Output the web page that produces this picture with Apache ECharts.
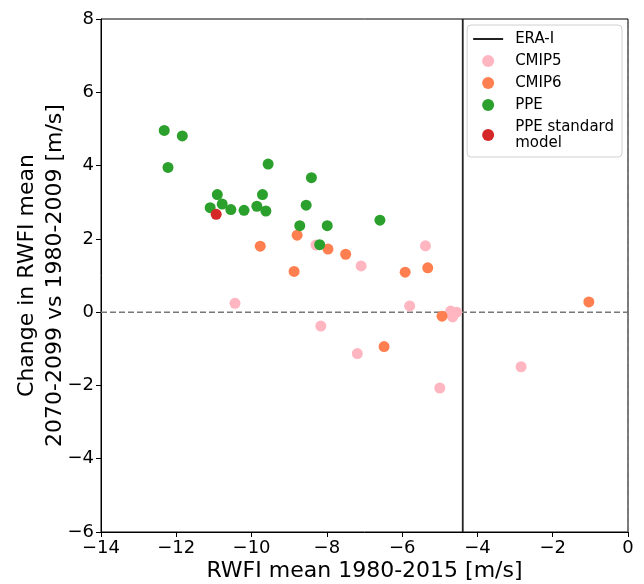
<!DOCTYPE html>
<html>
<head>
<meta charset="utf-8">
<script src="https://cdn.jsdelivr.net/npm/echarts@6/dist/echarts.min.js"></script>
<style>html,body{margin:0;padding:0;background:#fff;}#c{width:644px;height:584px;}</style>
</head>
<body>
<div id="c"></div>
<script>
// ---- Data ----
var eraI = -4.39;
var cmip5X = [-10.44, -8.29, -7.09, -5.38, -5.80, -4.71, -4.55, -4.66, -8.16, -7.19, -5.00, -2.84];
var cmip5Y = [0.24, 1.83, 1.26, 1.81, 0.17, 0.03, 0.00, -0.13, -0.38, -1.13, -2.07, -1.49];
var cmip6X = [-9.77, -8.79, -7.97, -7.50, -8.87, -5.92, -5.32, -4.94, -6.48, -1.04];
var cmip6Y = [1.80, 2.10, 1.72, 1.58, 1.11, 1.09, 1.21, -0.11, -0.94, 0.28];
var ppeX = [-12.32, -11.84, -12.22, -9.56, -8.41, -10.91, -9.71, -10.78, -11.10, -10.55, -10.20, -9.86, -9.62, -8.55, -8.72, -7.99, -8.19, -6.59];
var ppeY = [4.96, 4.81, 3.95, 4.04, 3.67, 3.21, 3.21, 2.95, 2.85, 2.80, 2.78, 2.89, 2.76, 2.92, 2.36, 2.36, 1.84, 2.51];
var stdX = [-10.94];
var stdY = [2.67];
var xTicks = [-14, -12, -10, -8, -6, -4, -2, 0];
var yTicks = [-6, -4, -2, 0, 2, 4, 6, 8];

function zip(a, b) { return a.map(function (v, i) { return [v, b[i]]; }); }

var FONT = 'DejaVu Sans';
var chart = echarts.init(document.getElementById('c'), null, { renderer: 'canvas' });
var minus = function (v) { return String(v).replace('-', '\u2212'); };

chart.setOption({
  animation: false,
  backgroundColor: '#fff',
  grid: { left: 101, top: 19, right: 16, bottom: 52, show: true, borderColor: '#000', borderWidth: 1, outerBoundsMode: 'none', containLabel: false },
  xAxis: {
    type: 'value', min: xTicks[0], max: xTicks[xTicks.length - 1], interval: 2,
    name: 'RWFI mean 1980-2015 [m/s]', nameLocation: 'middle', nameGap: 28, nameMoveOverlap: false,
    nameTextStyle: { fontFamily: FONT, fontSize: 22, color: '#000' },
    axisLine: { show: true, onZero: false, lineStyle: { color: '#000', width: 1 } },
    axisTick: { show: true, inside: false, length: 5, lineStyle: { color: '#000' } },
    axisLabel: { fontFamily: FONT, fontSize: 18, color: '#000', margin: 7, formatter: minus },
    splitLine: { show: false }
  },
  yAxis: {
    type: 'value', min: yTicks[0], max: yTicks[yTicks.length - 1], interval: 2,
    name: 'Change in RWFI mean\n2070-2099 vs 1980-2009 [m/s]', nameLocation: 'middle', nameGap: 32, nameMoveOverlap: false,
    nameTextStyle: { fontFamily: FONT, fontSize: 22, color: '#000', lineHeight: 28 },
    axisLine: { show: true, onZero: false, lineStyle: { color: '#000', width: 1 } },
    axisTick: { show: true, inside: false, length: 5, lineStyle: { color: '#000' } },
    axisLabel: { fontFamily: FONT, fontSize: 18, color: '#000', margin: 7, formatter: minus },
    splitLine: { show: false }
  },
  legend: {
    right: 22, top: 25, orient: 'vertical', align: 'left',
    backgroundColor: '#fff', borderColor: '#d0d0d0', borderWidth: 1, borderRadius: 4,
    padding: [6, 8, 6, 6], itemGap: 6, itemWidth: 30, itemHeight: 12,
    textStyle: { fontFamily: FONT, fontSize: 15, color: '#000', lineHeight: 16, padding: [0, 0, 0, 7] },
    data: [
      { name: 'ERA-I', icon: 'path://M0,0 L30,0 L30,2 L0,2 Z', itemStyle: { color: '#222' } },
      { name: 'CMIP5', icon: 'circle' },
      { name: 'CMIP6', icon: 'circle' },
      { name: 'PPE', icon: 'circle' },
      { name: 'PPE standard\nmodel', icon: 'circle' }
    ]
  },
  series: [
    {
      name: 'ERA-I', type: 'line', symbol: 'none', z: 1,
      data: [[eraI, yTicks[0]], [eraI, yTicks[yTicks.length - 1]]],
      lineStyle: { color: '#222', width: 1.8 }, itemStyle: { color: '#222' }
    },
    {
      name: 'zero-h', type: 'line', symbol: 'none', z: 1, silent: true,
      data: [[xTicks[0], 0], [xTicks[xTicks.length - 1], 0]],
      lineStyle: { color: '#777', width: 1.5, type: [6, 3] }
    },
    {
      name: 'zero-v', type: 'line', symbol: 'none', z: 1, silent: true,
      data: [[0, yTicks[0]], [0, yTicks[yTicks.length - 1]]],
      lineStyle: { color: '#777', width: 1.5, type: [6, 3] }
    },
    { name: 'CMIP5', type: 'scatter', symbolSize: 11, z: 3, data: zip(cmip5X, cmip5Y), itemStyle: { color: '#FFB6C1', opacity: 1 } },
    { name: 'CMIP6', type: 'scatter', symbolSize: 11, z: 3, data: zip(cmip6X, cmip6Y), itemStyle: { color: '#FF7F50', opacity: 1 } },
    { name: 'PPE', type: 'scatter', symbolSize: 11, z: 3, data: zip(ppeX, ppeY), itemStyle: { color: '#2CA02C', opacity: 1 } },
    { name: 'PPE standard\nmodel', type: 'scatter', symbolSize: 11, z: 3, data: zip(stdX, stdY), itemStyle: { color: '#D62728', opacity: 1 } }
  ]
});
</script>
</body>
</html>
